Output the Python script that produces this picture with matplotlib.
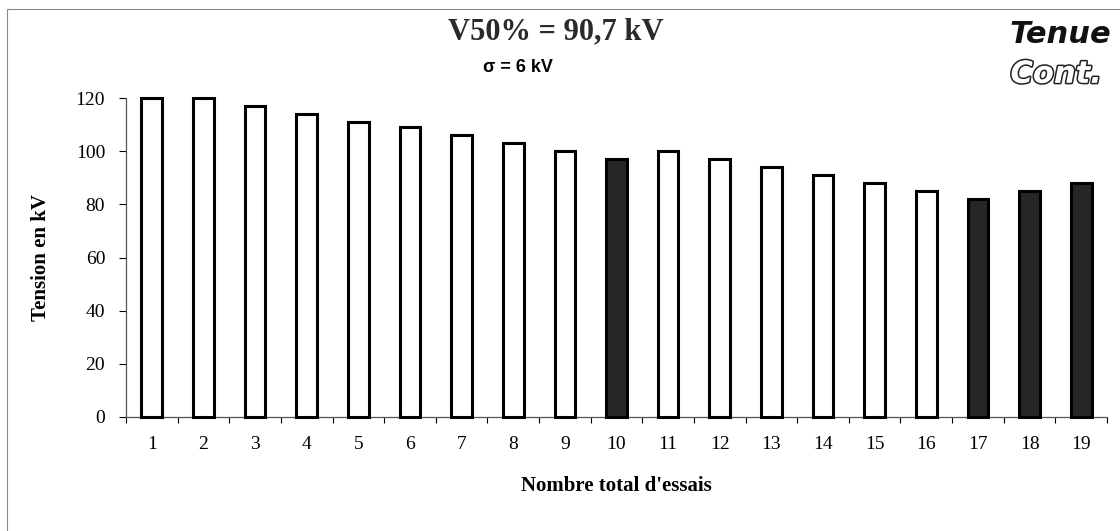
import matplotlib
matplotlib.use("Agg")
import matplotlib.pyplot as plt
import matplotlib.patheffects as pe
from matplotlib.patches import Rectangle
import numpy as np

# up-and-down test sequence
essais = list(range(1, 20))
tensions = [120, 120, 117, 114, 111, 109, 106, 103, 100, 97,
            100, 97, 94, 91, 88, 85, 82, 85, 88]
# trials drawn as filled bars
essais_pleins = [10, 17, 18, 19]

plt.rcParams['font.family'] = ['Liberation Serif', 'DejaVu Serif']

fig = plt.figure(figsize=(11.2, 5.31), dpi=100)
ax = fig.add_axes([0.1125, 0.2147, 0.8759, 0.6007])

colors = ["#262626" if e in essais_pleins else "white" for e in essais]
ax.bar(essais, tensions, width=0.4, color=colors, edgecolor="black",
       linewidth=2.2, clip_on=False, zorder=3)

ax.set_xlim(0.5, 19.5)
ax.set_ylim(0, 120)
ax.set_yticks(np.arange(0, 121, 20))
ax.set_xticks(essais)
ax.set_xticks(np.arange(0.5, 20, 1), minor=True)
ax.tick_params(axis='x', which='major', length=0, pad=14, labelsize=14)
ax.tick_params(axis='x', which='minor', length=4, width=0.8, direction='out')
ax.tick_params(axis='y', length=5, width=0.8, pad=10, labelsize=14)

for side in ['top', 'right']:
    ax.spines[side].set_visible(False)
for side in ['left', 'bottom']:
    ax.spines[side].set_color('#555555')
    ax.spines[side].set_linewidth(0.9)

ax.set_ylabel("Tension en kV", fontsize=15, fontweight='bold', labelpad=18)
ax.set_xlabel("Nombre total d'essais", fontsize=15, fontweight='bold', labelpad=16)

fig.text(0.496, 0.94, "V50% = 90,7 kV", fontsize=22, fontweight='bold',
         ha='center', va='center', color='#2a2a2a')
fig.text(0.462, 0.873, "\u03c3 = 6 kV", fontsize=13, fontweight='bold',
         family=['Liberation Sans', 'DejaVu Sans'], ha='center', va='center')

fig.text(0.947, 0.935, "Tenue", fontsize=22, fontweight='heavy', style='italic',
         family=['DejaVu Sans'], ha='center', va='center', color='#111111')
fig.text(0.943, 0.86, "Cont.", fontsize=22, fontweight='heavy', style='italic',
         family=['DejaVu Sans'], ha='center', va='center', color='white',
         path_effects=[pe.Stroke(linewidth=2.2, foreground='#222222'), pe.Normal()])

# outer frame
fig.patches.append(Rectangle((7 / 1120, -0.05), 1.2, 1 - 9 / 531 + 0.05,
                             transform=fig.transFigure, fill=False,
                             edgecolor='#888888', linewidth=0.8))

fig.savefig("out.png", dpi=100)
